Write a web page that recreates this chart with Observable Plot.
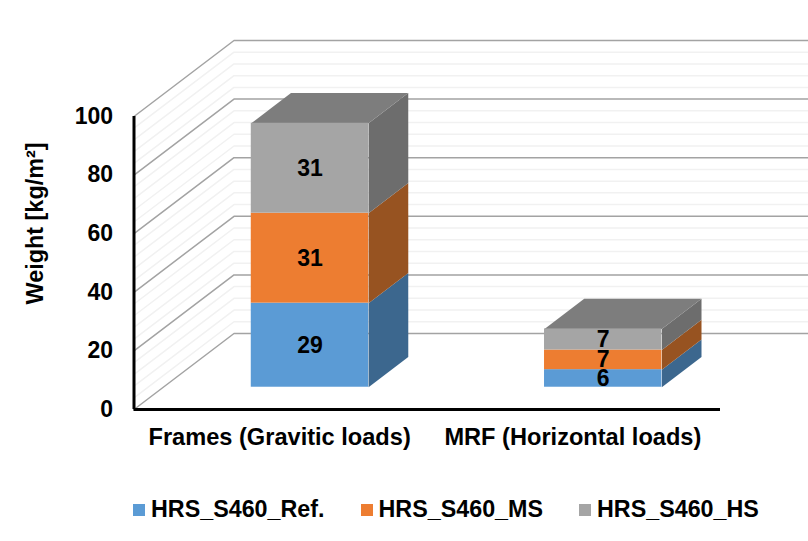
<!DOCTYPE html>
<html>
<head>
<meta charset="utf-8">
<script src="https://cdn.jsdelivr.net/npm/d3@7"></script>
<script src="https://cdn.jsdelivr.net/npm/@observablehq/plot@0.6"></script>
<style>
  html, body { margin: 0; padding: 0; background: #fff; }
  #chart { width: 808px; height: 541px; overflow: hidden; font-family: "Liberation Sans", Arial, sans-serif; }
  #chart svg { display: block; }
  #legend-wrap { padding: 13px 0 0 133px; }
  #legend-wrap [class$="-swatch"] { margin-right: 36px !important; }
  #legend-wrap [class$="-swatch"] svg { margin-right: 6px !important; }
</style>
</head>
<body>
<div id="chart"></div>
<script>
// ---- data ----
const categories = ["Frames (Gravitic loads)", "MRF (Horizontal loads)"];
const seriesNames = ["HRS_S460_Ref.", "HRS_S460_MS", "HRS_S460_HS"];
const refValues = [28.7, 6.0];
const msValues = [30.7, 6.7];
const hsValues = [30.7, 7.2];
const yTicks = [0, 20, 40, 60, 80, 100];
const yTitle = "Weight [kg/m²]";

// ---- styling ----
const frontColors = ["#5b9bd5", "#ed7d31", "#a5a5a5"];
const sideColors = ["#3c678e", "#975321", "#6d6d6d"];
const topColor = "#7d7d7d";
const font = '"Liberation Sans", Arial, sans-serif';

// ---- oblique projection of the 3D chart box (category, value, depth 0..1) ----
const depthX = 0.341, depthY = 25.94;
const barHalf = 0.2, depthFrom = 0.293, depthTo = 0.69;
const px = (c, z) => c + z * depthX;
const py = (v, z) => v + z * depthY;

// walls: major every 20, minor every 4
const gridRows = [];
for (let v = 0; v <= 100; v += 4) {
  const major = v % 20 === 0;
  [[0, 0], [0, 1], [categories.length, 1]].forEach(([c, z]) =>
    gridRows.push({id: v, major, x: px(c, z), y: py(v, z)}));
}

// stacked boxes
const seriesValues = [refValues, msValues, hsValues];
const fronts = [], polys = [], labels = [];
categories.forEach((cat, i) => {
  let base = 0;
  seriesValues.forEach((vals, s) => {
    const top = base + vals[i];
    const cx = i + 0.5, l = cx - barHalf, r = cx + barHalf;
    fronts.push({series: seriesNames[s],
      x1: px(l, depthFrom), x2: px(r, depthFrom),
      y1: py(base, depthFrom), y2: py(top, depthFrom)});
    const side = [[r, base, depthFrom], [r, base, depthTo], [r, top, depthTo], [r, top, depthFrom]];
    side.forEach(([c, v, z]) =>
      polys.push({id: `side${i}${s}`, fill: sideColors[s], x: px(c, z), y: py(v, z)}));
    if (s === seriesValues.length - 1) {
      const lid = [[l, top, depthFrom], [r, top, depthFrom], [r, top, depthTo], [l, top, depthTo]];
      lid.forEach(([c, v, z]) =>
        polys.push({id: `top${i}`, fill: topColor, x: px(c, z), y: py(v, z)}));
    }
    labels.push({x: px(cx, depthFrom), y: py((base + top) / 2, depthFrom), text: String(Math.round(vals[i]))});
    base = top;
  });
});

const colorOpts = {domain: seriesNames, range: frontColors};

const plot = Plot.plot({
  width: 808,
  height: 480,
  marginLeft: 133.5,
  marginRight: 88,
  marginTop: 116,
  marginBottom: 71,
  style: {fontFamily: font, background: "#fff", color: "#000", overflow: "hidden"},
  x: {domain: [0, categories.length], axis: null},
  y: {domain: [0, 100], axis: null},
  color: colorOpts,
  marks: [
    Plot.line(gridRows.filter(d => !d.major), {x: "x", y: "y", z: "id", stroke: "#f1f1f1", strokeWidth: 1.5}),
    Plot.line(gridRows.filter(d => d.major), {x: "x", y: "y", z: "id", stroke: "#a3a3a3", strokeWidth: 1.5}),
    Plot.line(polys, {x: "x", y: "y", z: "id", fill: "fill", stroke: "none"}),
    Plot.rect(fronts, {x1: "x1", x2: "x2", y1: "y1", y2: "y2", fill: "series"}),
    Plot.ruleX([0], {y1: 0, y2: 100, stroke: "#000", strokeWidth: 3}),
    Plot.ruleY([0], {x1: 0, x2: categories.length, stroke: "#000", strokeWidth: 3}),
    Plot.text(labels, {x: "x", y: "y", text: "text", fill: "#000", fontSize: 23, fontWeight: "bold"}),
    Plot.axisY({ticks: yTicks, tickSize: 0, tickPadding: 21, label: null, fontSize: 23, fontWeight: "bold", fill: "#000"}),
    Plot.axisX({ticks: categories.map((_, i) => i + 0.5), tickFormat: d => categories[Math.floor(d)],
      tickSize: 0, tickPadding: 19, label: null, fontSize: 23.6, fontWeight: "bold", fill: "#000", dx: -1}),
    Plot.text([yTitle], {text: d => d, frameAnchor: "left", textAnchor: "middle", dx: -99, y: [63.5], rotate: -90,
      fontSize: 23.4, fontWeight: "bold", fill: "#000"})
  ]
});

const legend = Plot.legend({
  color: colorOpts,
  swatchSize: 12,
  style: {fontFamily: font, fontSize: "23.3px", fontWeight: "bold", color: "#000", margin: 0}
});

const host = document.getElementById("chart");
host.appendChild(plot);
const wrap = document.createElement("div");
wrap.id = "legend-wrap";
wrap.appendChild(legend);
host.appendChild(wrap);
</script>
</body>
</html>
